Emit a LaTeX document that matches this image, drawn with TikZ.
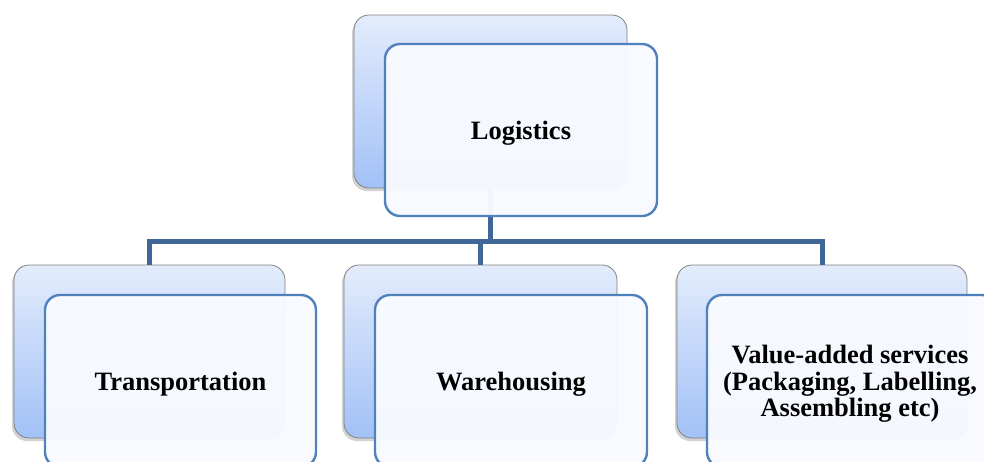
\documentclass[tikz,border=0pt]{standalone}
\usepackage{fontspec}
\setmainfont{Liberation Serif}
\usetikzlibrary{shadows}
\definecolor{frontblue}{HTML}{4F81BD}
\definecolor{linkblue}{HTML}{3F6899}
\definecolor{backtop}{HTML}{E3ECFC}
\definecolor{backbot}{HTML}{A2C1F7}
\definecolor{frontfill}{HTML}{F8FAFF}
\tikzset{
  backbox/.style={draw=black!50, line width=0.8pt, rounded corners=15pt,
    top color=backtop, bottom color=backbot, inner sep=0pt, outer sep=0pt,
    minimum height=173pt,
    drop shadow={shadow xshift=-2pt, shadow yshift=-3pt, opacity=0.35}},
  frontbox/.style={draw=frontblue, line width=2.4pt, rounded corners=15pt,
    fill=frontfill, fill opacity=0.96, inner sep=0pt, outer sep=0pt,
    minimum height=172pt},
  label/.style={align=center, inner sep=0pt,
    font=\fontsize{26.5}{26.5}\selectfont\bfseries},
  link/.style={draw=linkblue, line width=5pt}
}
\begin{document}
\begin{tikzpicture}[x=1pt,y=-1pt]
\useasboundingbox (0,0) rectangle (984,461);
\fill[white] (0,0) rectangle (984,461);
\begin{scope}
\clip (0,0) rectangle (984,461);
% back boxes
\node[backbox, minimum width=273pt] (topback) at (490.5,101.5) {};
\node[backbox, minimum width=271pt] (lback) at (149.5,351.5) {};
\node[backbox, minimum width=273pt] (mback) at (480.5,351.5) {};
\node[backbox, minimum width=290pt] (rback) at (822,351.5) {};
% connectors
\draw[link] (topback.south) -- ++(0,53) coordinate (bus);
\draw[link] (lback.north) |- (bus) -| (rback.north);
\draw[link] (bus) -| (mback.north);
% front boxes
\node[frontbox, minimum width=272pt] (top) at (521,130) {};
\node[frontbox, minimum width=271pt] (lfront) at (180.5,381) {};
\node[frontbox, minimum width=272pt] (mfront) at (511,381) {};
\node[frontbox, minimum width=290pt] (rfront) at (852,381) {};
% texts
\node[label] (toptext) at (521,133) {Logistics};
\node[label] (ltext) at (180.5,384) {Transportation};
\node[label] (mtext) at (511,384) {Warehousing};
\node[label] (rtext) at (850,384) {Value-added services\\(Packaging, Labelling,\\Assembling etc)};
\end{scope}
\end{tikzpicture}
\end{document}
